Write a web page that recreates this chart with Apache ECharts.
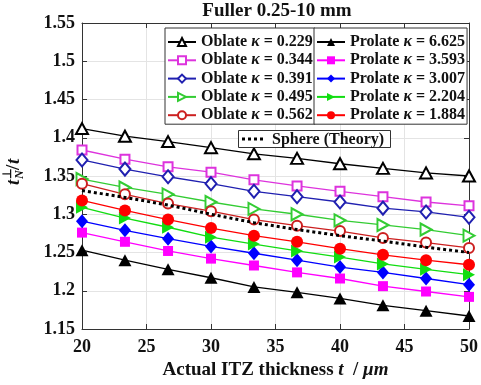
<!DOCTYPE html>
<html>
<head>
<meta charset="utf-8">
<script src="https://cdn.jsdelivr.net/npm/echarts@6/dist/echarts.min.js"></script>
<style>
html,body{margin:0;padding:0;background:#fff;}
#c{width:481px;height:385px;}
</style>
</head>
<body>
<div id="c"></div>
<script>
// ---- data ----
const xs = [20, 23.33, 26.67, 30, 33.33, 36.67, 40, 43.33, 46.67, 50];
const xTicks = [20, 25, 30, 35, 40, 45, 50];
const yTicks = [1.15, 1.2, 1.25, 1.3, 1.35, 1.4, 1.45, 1.5, 1.55];

const oblate0229 = [1.412, 1.402, 1.395, 1.387, 1.379, 1.373, 1.366, 1.360, 1.354, 1.350];
const oblate0344 = [1.384, 1.372, 1.362, 1.355, 1.345, 1.337, 1.330, 1.323, 1.316, 1.311];
const oblate0391 = [1.371, 1.359, 1.349, 1.340, 1.330, 1.323, 1.316, 1.308, 1.303, 1.296];
const oblate0495 = [1.346, 1.335, 1.326, 1.316, 1.307, 1.300, 1.292, 1.286, 1.280, 1.272];
const oblate0562 = [1.340, 1.326, 1.314, 1.304, 1.293, 1.285, 1.278, 1.269, 1.263, 1.256];
const prolate6625 = [1.253, 1.240, 1.228, 1.217, 1.205, 1.198, 1.190, 1.181, 1.174, 1.167];
const prolate3593 = [1.276, 1.264, 1.252, 1.242, 1.233, 1.224, 1.216, 1.206, 1.199, 1.192];
const prolate3007 = [1.291, 1.279, 1.268, 1.258, 1.249, 1.240, 1.231, 1.224, 1.216, 1.208];
const prolate2204 = [1.309, 1.295, 1.283, 1.270, 1.261, 1.252, 1.244, 1.235, 1.228, 1.221];
const prolate1884 = [1.318, 1.305, 1.293, 1.282, 1.272, 1.264, 1.255, 1.247, 1.240, 1.234];
const sphereTheory = [1.331, 1.322, 1.312, 1.300, 1.289, 1.280, 1.272, 1.265, 1.257, 1.250];

const oblateNames = ['Oblate κ = 0.229', 'Oblate κ = 0.344', 'Oblate κ = 0.391', 'Oblate κ = 0.495', 'Oblate κ = 0.562'];
const prolateNames = ['Prolate κ = 6.625', 'Prolate κ = 3.593', 'Prolate κ = 3.007', 'Prolate κ = 2.204', 'Prolate κ = 1.884'];
const sphereName = 'Sphere (Theory)';

// ---- styling ----
const FONT = '"Liberation Serif", "Times New Roman", serif';
const pts = arr => xs.map((x, i) => [x, arr[i]]);

function mk(name, data, color, symbol, size, rotate, filled) {
  return {
    name: name, type: 'line', data: pts(data),
    symbol: symbol, symbolSize: size, symbolRotate: rotate || 0,
    lineStyle: { color: color, width: 1.3 },
    itemStyle: filled ? { color: color } : { color: color, borderColor: color, borderWidth: 1.3 },
    emphasis: { disabled: true }, animation: false, z: filled ? 3 : 2
  };
}

const series = [
  mk(oblateNames[0], oblate0229, '#000000', 'emptyTriangle', [12, 11], 0, false),
  mk(oblateNames[1], oblate0344, '#dd33dd', 'emptyRect', 9, 0, false),
  mk(oblateNames[2], oblate0391, '#2020b0', 'emptyDiamond', [11, 13], 0, false),
  mk(oblateNames[3], oblate0495, '#33cc33', 'emptyTriangle', [12, 11], -90, false),
  mk(oblateNames[4], oblate0562, '#cc2020', 'emptyCircle', 10, 0, false),
  mk(prolateNames[0], prolate6625, '#000000', 'triangle', [13, 12], 0, true),
  mk(prolateNames[1], prolate3593, '#ff00ff', 'rect', 10, 0, true),
  mk(prolateNames[2], prolate3007, '#0000ff', 'diamond', [12, 14], 0, true),
  mk(prolateNames[3], prolate2204, '#11dd11', 'triangle', [13, 12], -90, true),
  mk(prolateNames[4], prolate1884, '#ff0000', 'circle', 12, 0, true),
  {
    name: sphereName, type: 'line', data: pts(sphereTheory), symbol: 'none',
    lineStyle: { color: '#000', width: 3, type: [3, 3] }, itemStyle: { color: '#000' },
    emphasis: { disabled: true }, animation: false, z: 4
  }
];

function legendFmt(n) {
  const m = n.match(/^(\w+) κ = (.*)$/);
  if (!m) return n;
  return '{b|' + m[1] + ' }{k|κ}{b| = ' + m[2] + '}';
}
function legendText(lh) {
  return {
    fontFamily: FONT, fontSize: 16, fontWeight: 'bold', color: '#111', lineHeight: lh,
    rich: {
      b: { fontFamily: FONT, fontSize: 16, fontWeight: 'bold', color: '#111', lineHeight: lh },
      k: { fontFamily: FONT, fontSize: 16, fontWeight: 'bold', fontStyle: 'italic', color: '#111', lineHeight: lh }
    }
  };
}
function mkLegend(data, left, top, iw, pad, lh) {
  return {
    data: data, orient: 'vertical', left: left, top: top,
    itemWidth: iw, itemHeight: 10, itemGap: 0.3, padding: pad,
    borderColor: '#333', borderWidth: 1, backgroundColor: '#fff',
    textStyle: legendText(lh), formatter: legendFmt, selectedMode: false
  };
}

const axisLine = { show: true, lineStyle: { color: '#333', width: 1 } };
const labelStyle = { fontFamily: FONT, fontSize: 18, fontWeight: 'bold', color: '#111' };

const option = {
  backgroundColor: '#fff',
  animation: false,
  title: {
    text: 'Fuller 0.25-10 mm', left: 277, top: 2, textAlign: 'center', padding: 0,
    textStyle: { fontFamily: FONT, fontSize: 19, fontWeight: 'bold', color: '#111' }
  },
  grid: { left: 82, right: 9, top: 23, bottom: 56 },
  legend: [
    mkLegend(oblateNames, 165, 28, 28, [5, 2, 0, 2], 18),
    mkLegend(prolateNames, 314, 28, 28, [5, 2, 0, 2], 18)
  ],
  xAxis: [{
    type: 'value', min: 20, max: 50, interval: 5,
    axisLine: axisLine, axisTick: { inside: true, length: 5, lineStyle: { color: '#333' } },
    axisLabel: Object.assign({ margin: 9, formatter: v => String(v) }, labelStyle),
    splitLine: { show: true, lineStyle: { color: '#e4e4e4', width: 1 } },
    name: '{b|Actual ITZ thickness }{i|t}{b|  / }{i|μm}', nameLocation: 'middle', nameGap: 28,
    nameTextStyle: {
      fontFamily: FONT, fontSize: 19, fontWeight: 'bold', color: '#111',
      rich: {
        b: { fontFamily: FONT, fontSize: 19, fontWeight: 'bold', color: '#111' },
        i: { fontFamily: FONT, fontSize: 19, fontWeight: 'bold', fontStyle: 'italic', color: '#111' }
      }
    }
  }, {
    type: 'value', position: 'top', min: 20, max: 50, interval: 5,
    axisLine: axisLine, axisTick: { inside: true, length: 5, lineStyle: { color: '#333' } },
    axisLabel: { show: false }, splitLine: { show: false }
  }],
  yAxis: [{
    type: 'value', min: 1.15, max: 1.55, interval: 0.05,
    axisLine: axisLine, axisTick: { inside: true, length: 5, lineStyle: { color: '#333' } },
    axisLabel: Object.assign({ margin: 7, formatter: v => String(+v.toFixed(2)) }, labelStyle),
    splitLine: { show: true, lineStyle: { color: '#e4e4e4', width: 1 } }
  }, {
    type: 'value', position: 'right', min: 1.15, max: 1.55, interval: 0.05,
    axisLine: axisLine, axisTick: { inside: true, length: 5, lineStyle: { color: '#333' } },
    axisLabel: { show: false }, splitLine: { show: false }
  }],
  graphic: [{
    type: 'group', x: 14, y: 171, rotation: Math.PI / 2,
    children: [
      { type: 'text', x: -14, y: 0, style: { text: 't', font: 'italic bold 19px ' + FONT, fill: '#111', verticalAlign: 'middle', align: 'left' } },
      { type: 'text', x: -8, y: -6, style: { text: '⊥', font: 'bold 12px ' + FONT, fill: '#111', verticalAlign: 'middle', align: 'left' } },
      { type: 'text', x: -8, y: 6, style: { text: 'N', font: 'italic bold 12px ' + FONT, fill: '#111', verticalAlign: 'middle', align: 'left' } },
      { type: 'text', x: 1, y: 0, style: { text: '/', font: 'bold 19px ' + FONT, fill: '#111', verticalAlign: 'middle', align: 'left' } },
      { type: 'text', x: 7, y: 0, style: { text: 't', font: 'italic bold 19px ' + FONT, fill: '#111', verticalAlign: 'middle', align: 'left' } }
    ]
  },
  { type: 'rect', z: 100, shape: { x: 238.5, y: 130.5, width: 152, height: 17 }, style: { fill: '#ffffff', stroke: '#333', lineWidth: 1 } },
  { type: 'line', z: 101, shape: { x1: 242, y1: 139, x2: 266, y2: 139 }, style: { stroke: '#000', lineWidth: 3, lineDash: [3, 3] } },
  { type: 'text', z: 101, x: 272, y: 139.5, style: { text: sphereName, font: 'bold 16px ' + FONT, fill: '#111', verticalAlign: 'middle', align: 'left' } }
  ],
  series: series
};

const chart = echarts.init(document.getElementById('c'), null, { renderer: 'canvas' });
chart.setOption(option);
</script>
</body>
</html>
